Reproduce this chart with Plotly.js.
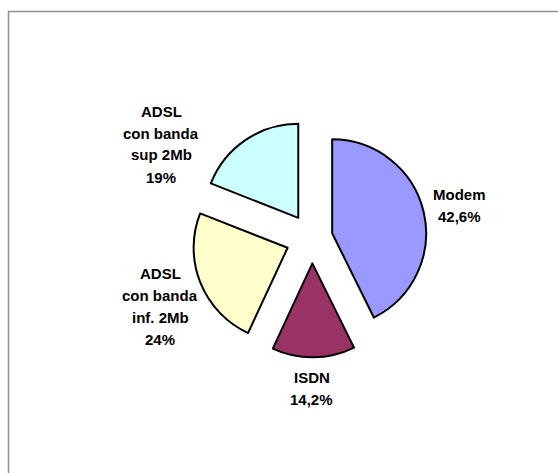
<!DOCTYPE html>
<html>
<head>
<meta charset="utf-8">
<script src="https://cdn.plot.ly/plotly-3.0.1.min.js"></script>
<style>html,body{margin:0;padding:0;background:#fff;}#chart{width:558px;height:473px;}</style>
</head>
<body>
<div id="chart"></div>
<script>
// Data
var categories = ['Modem', 'ISDN', 'ADSL<br>con banda<br>inf. 2Mb', 'ADSL<br>con banda<br>sup 2Mb'];
var shares = [42.6, 14.2, 24, 19];
var sliceColors = ['#9999FF', '#993366', '#FFFFCC', '#CCFFFF'];
var pulls = [0.22, 0.27, 0.28, 0.26];
// label block centres (pixels in the 558x473 frame)
var labelX = [459, 312, 160, 161];
var labelY = [205, 388, 306, 144];
var lineGap = 22;

var W = 558, H = 473;
function fmt(v) { return String(v).replace('.', ',') + '%'; }

var trace = {
  type: 'pie',
  labels: categories,
  values: shares,
  sort: false,
  direction: 'clockwise',
  rotation: 0,
  pull: pulls,
  textinfo: 'none',
  hoverinfo: 'label+percent',
  marker: { colors: sliceColors, line: { color: '#000000', width: 2 } },
  domain: { x: [0.3436, 0.7748], y: [0.2425, 0.7511] },
  showlegend: false
};

var annotations = [];
categories.forEach(function (c, i) {
  var lines = c.split('<br>').concat([fmt(shares[i])]);
  var n = lines.length;
  lines.forEach(function (t, k) {
    var py = labelY[i] + (k - (n - 1) / 2) * lineGap;
    annotations.push({
      xref: 'paper', yref: 'paper',
      x: labelX[i] / W, y: 1 - py / H,
      xanchor: 'center', yanchor: 'middle',
      text: t,
      showarrow: false,
      font: { family: 'Liberation Sans, Arial, sans-serif', size: 15, color: '#000000', weight: 'bold' }
    });
  });
});

var layout = {
  width: W, height: H,
  margin: { l: 0, r: 0, t: 0, b: 0 },
  paper_bgcolor: '#ffffff',
  plot_bgcolor: '#ffffff',
  showlegend: false,
  separators: ',.',
  annotations: annotations,
  shapes: [{
    type: 'rect', xref: 'paper', yref: 'paper',
    x0: 8.5 / W, x1: 1.02, y0: -0.02, y1: 1 - 11.5 / H,
    line: { color: '#909090', width: 1.5 },
    fillcolor: 'rgba(0,0,0,0)'
  }]
};

Plotly.newPlot('chart', [trace], layout, { displayModeBar: false, staticPlot: true });
</script>
</body>
</html>
